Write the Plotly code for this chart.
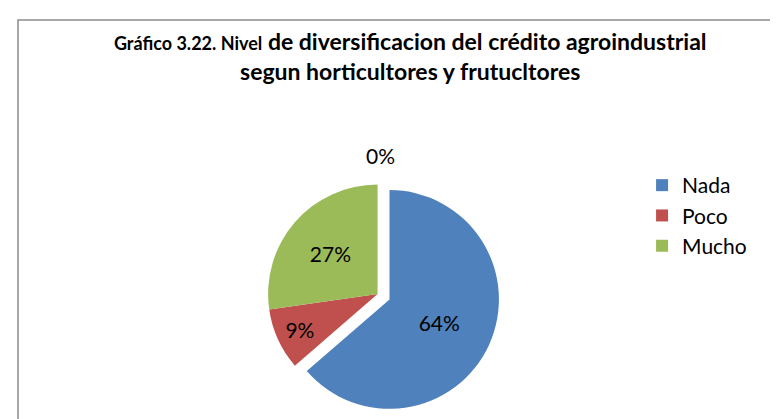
import plotly.graph_objects as go

categories = ["Nada", "Poco", "Mucho", " "]
counts = [7, 1, 3, 0]
colors = ["#4F81BD", "#C0504D", "#9BBB59", "rgba(0,0,0,0)"]
pulls = [0.12, 0, 0, 0]

total = sum(counts)
zero_label = f"{round(100 * counts[3] / total)}%"

fig = go.Figure(go.Pie(
    labels=categories,
    values=counts,
    sort=False,
    direction="clockwise",
    rotation=0,
    pull=pulls,
    marker=dict(colors=colors, line=dict(width=0)),
    texttemplate="%{percent:.0%}",
    textposition="inside",
    insidetextorientation="horizontal",
    textfont=dict(family="Lato", size=21, color="#000000"),
    hoverinfo="label+percent",
    domain=dict(x=[0.20, 0.75], y=[0.025, 0.61]),
))

fig.add_annotation(
    text=zero_label, xref="paper", yref="paper",
    x=372/778, y=1-147/419, showarrow=False,
    font=dict(family="Lato", size=21, color="#000000"),
)

fig.update_layout(
    width=778, height=419,
    margin=dict(l=0, r=0, t=0, b=0),
    paper_bgcolor="white",
    plot_bgcolor="white",
    title=dict(
        text="<b><span style='font-size:18px'>Gráfico 3.22. Nivel</span> de diversificacion del crédito agroindustrial<br>segun horticultores y frutucltores</b>",
        x=0.517, xanchor="center", y=0.9, yanchor="top",
        font=dict(family="Lato", size=23, color="#000000"),
    ),
    legend=dict(
        x=0.815, xanchor="left", y=1-223/419, yanchor="middle",
        font=dict(family="Lato", size=21, color="#000000"),
        itemwidth=30,
    ),
    shapes=[dict(type="rect", xref="paper", yref="paper",
                 x0=10/778, y0=-0.05, x1=1.05, y1=1-12/419,
                 line=dict(color="#8C8C8C", width=1.5))],
)

fig.write_html("out.html")
